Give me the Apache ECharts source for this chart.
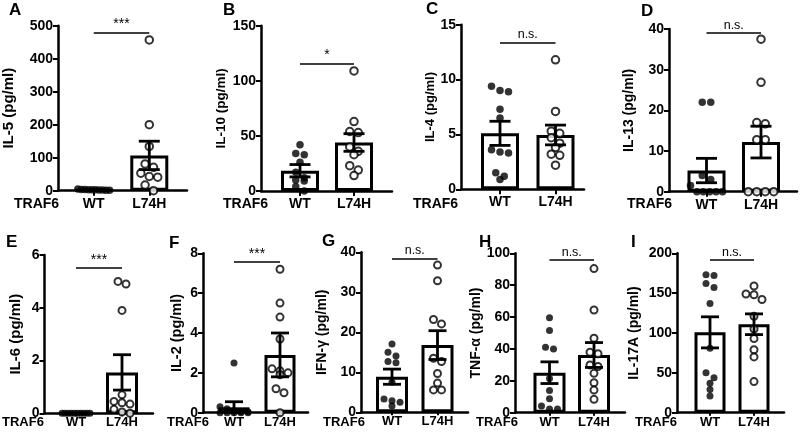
<!DOCTYPE html>
<html><head><meta charset="utf-8">
<script src="https://cdn.jsdelivr.net/npm/echarts@6/dist/echarts.min.js"></script>
<style>html,body{margin:0;padding:0;background:#fff}#c{width:800px;height:437px}</style>
</head><body><div id="c"></div>
<script>
// ---------- DATA ----------
const groups = ['WT', 'L74H'];
const factorLabel = 'TRAF6';
const panelLetters = ['A','B','C','D','E','F','G','H','I'];
const axisNames = ['IL-5 (pg/ml)','IL-10 (pg/ml)','IL-4 (pg/ml)','IL-13 (pg/ml)','IL-6 (pg/ml)','IL-2 (pg/ml)','IFN-γ (pg/ml)','TNF-α (pg/ml)','IL-17A (pg/ml)'];
const yMax = [500, 150, 15, 40, 6, 8, 40, 100, 200];
const yStep = [100, 50, 5, 10, 2, 2, 10, 20, 50];

const il5WT = [5, 4, 4, 3, 3, 3, 2, 2, 1, 1];
const il5L74H = [457, 200, 134, 81, 71, 53, 43, 41, 17, 0];
const il10WT = [42, 34, 33, 26, 17, 12, 10, 9, 4, 0];
const il10L74H = [109, 63, 54, 53, 40, 36, 33, 23, 19, 14];
const il4WT = [9.4, 9.0, 8.9, 7.3, 6.5, 3.6, 3.4, 3.3, 1.5, 1.2, 0.9];
const il4L74H = [11.8, 7.1, 5.3, 5.1, 4.7, 4.2, 3.8, 3.2, 3.1, 2.2];
const il13WT = [22, 22, 4, 3, 1.5, 0, 0, 0, 0, 0];
const il13L74H = [37.5, 26.9, 17, 16.7, 12.8, 12.8, 0, 0, 0, 0];
const il6WT = [0, 0, 0, 0, 0, 0, 0, 0, 0, 0];
const il6L74H = [5.0, 4.9, 3.9, 0.7, 0.45, 0.4, 0.35, 0.15, 0.05, 0];
const il2WT = [2.5, 0.3, 0.2, 0.1, 0.05, 0.05, 0, 0, 0, 0, 0];
const il2L74H = [7.2, 5.5, 4.8, 3.7, 2.2, 2.1, 2.0, 1.9, 1.2, 1.0, 0];
const ifngWT = [17.1, 15.0, 14.1, 12.7, 12.4, 7.5, 3.3, 2.9, 2.5, 1.6];
const ifngL74H = [36.8, 32.9, 23.2, 22.1, 13.5, 12.7, 9.7, 7.3, 5.6, 5.6];
const tnfWT = [59.6, 51.5, 41, 40, 21.5, 14, 8.8, 4.2, 2.3, 2.3];
const tnfL74H = [90.4, 64.4, 46.7, 38, 37, 30, 29, 24.7, 18.8, 14.2, 8.4];
const il17WT = [173, 172, 162, 157, 137, 81, 50, 44, 37, 29, 21];
const il17L74H = [159, 149, 148, 142, 121, 105, 93, 79, 70, 39];

// bar heights (mean) and error (SEM), [WT, L74H]
const meanValues = [[3, 107], [18.4, 44], [5.1, 4.95], [5.2, 12.2], [0, 1.55], [0.27, 2.9], [8.9, 16.8], [25.1, 36.2], [100.8, 111]];
const semValues = [[0.6, 43], [5.6, 8], [1.1, 0.9], [3.0, 3.9], [0, 0.67], [0.28, 1.1], [1.9, 3.6], [6.8, 7.8], [19.5, 13]];
const sigLevel = [480, 115.8, 13.4, 39.1, 5.5, 7.58, 38.5, 95.8, 191.6];
const sigText = ['***', '*', 'n.s.', 'n.s.', '***', '***', 'n.s.', 'n.s.', 'n.s.'];

const wtSets = [il5WT, il10WT, il4WT, il13WT, il6WT, il2WT, ifngWT, tnfWT, il17WT];
const mutSets = [il5L74H, il10L74H, il4L74H, il13L74H, il6L74H, il2L74H, ifngL74H, tnfL74H, il17L74H];

// ---------- LAYOUT (pixels) ----------
const layout = [
  {left:57,  c0:93,   c1:149,   right:187, top:25.7,  zero:190.7, barW:38, cap:21, gap:42, nf:15,   lx:9,   ly:2,   tx:14,  row:0},
  {left:261, c0:300,  c1:354,   right:392, top:25.7,  zero:191,   barW:38, cap:21, gap:30, nf:13.5, lx:223, ly:2,   tx:223, row:0},
  {left:461, c0:500,  c1:555.5, right:584, top:24.7,  zero:189.3, barW:38, cap:21, gap:20, nf:13,   lx:426, ly:1,   tx:413, row:0},
  {left:669, c0:706.5,c1:761,   right:797, top:29,    zero:191.7, barW:38, cap:21, gap:33, nf:14,   lx:641, ly:3,   tx:627, row:0},
  {left:44.5,c0:76,   c1:122,   right:153, top:255,   zero:413.3, barW:32, cap:18, gap:21, nf:15,   lx:6,   ly:234, tx:2,   row:1},
  {left:203, c0:234,  c1:280,   right:308, top:253.3, zero:412.7, barW:31, cap:18, gap:19, nf:14.5, lx:169, ly:235, tx:167, row:1},
  {left:361, c0:392,  c1:437.5, right:468, top:252.3, zero:412.3, barW:32, cap:18, gap:32, nf:14,   lx:322, ly:233, tx:323, row:1},
  {left:515, c0:549.5,c1:594,   right:625, top:253.3, zero:412.7, barW:32, cap:18, gap:30, nf:14,   lx:479, ly:234, tx:476, row:1},
  {left:677, c0:710,  c1:754,   right:784, top:253.3, zero:412.7, barW:31, cap:18, gap:36, nf:14,   lx:631, ly:234, tx:635, row:1}
];
const rowStyle = [
  {catFont:14, catMargin:6, tick:5, tickFont:14, sym:7.5, trafTop:197, spread:32},
  {catFont:13, catMargin:3, tick:3, tickFont:14, sym:7,   trafTop:415.5, spread:28}
];
const FONT = '"Liberation Sans", Arial, Helvetica, sans-serif';

// column-scatter placement (rows of similar values, centred)
function columnSpread(vals, pxPerUnit, D, maxW) {
  const sorted = vals.slice().sort((a, b) => b - a);
  const rows = [];
  let cur = null;
  sorted.forEach(v => {
    const y = v * pxPerUnit;
    if (cur && (cur.y0 - y) < D * 0.85) cur.items.push(v);
    else { cur = {y0: y, items: [v]}; rows.push(cur); }
  });
  const out = [];
  rows.forEach(r => {
    const n = r.items.length;
    const step = n > 1 ? Math.min(D + 1, maxW / (n - 1)) : 0;
    r.items.forEach((v, k) => out.push([(k - (n - 1) / 2) * step, v]));
  });
  return out;
}

const option = {animation: false, textStyle: {fontFamily: FONT}, grid: [], xAxis: [], yAxis: [], series: [], graphic: []};

layout.forEach((L, i) => {
  const R = rowStyle[L.row];
  const s = L.c1 - L.c0;
  const xmin = -(L.c0 - L.left) / s, xmax = 1 + (L.right - L.c1) / s;
  const h = L.zero - L.top;
  option.grid.push({left: L.left, top: L.top, width: L.right - L.left, height: h});
  option.xAxis.push({
    type: 'value', gridIndex: i, min: xmin, max: xmax,
    axisLine: {show: true, onZero: false, lineStyle: {color: '#000', width: 2.5}},
    axisTick: {show: true, customValues: [0, 1], length: R.tick, lineStyle: {color: '#000', width: 2}},
    axisLabel: {show: true, customValues: [0, 1], formatter: v => groups[Math.round(v)], color: '#000', fontWeight: 'bold', fontSize: R.catFont, margin: R.catMargin, fontFamily: FONT},
    splitLine: {show: false}
  });
  option.yAxis.push({
    type: 'value', gridIndex: i, min: 0, max: yMax[i], interval: yStep[i],
    name: axisNames[i], nameLocation: 'middle', nameGap: L.gap,
    nameTextStyle: {color: '#000', fontWeight: 'bold', fontSize: L.nf, fontFamily: FONT},
    axisLine: {show: true, onZero: false, lineStyle: {color: '#000', width: 2.5}},
    axisTick: {show: true, length: 5, lineStyle: {color: '#000', width: 2}},
    axisLabel: {color: '#000', fontWeight: 'bold', fontSize: R.tickFont, margin: 5, fontFamily: FONT},
    splitLine: {show: false}
  });
  const m = meanValues[i], e = semValues[i];
  option.series.push({
    type: 'bar', xAxisIndex: i, yAxisIndex: i, barWidth: L.barW, z: 2,
    data: [[0, m[0]], [1, m[1]]],
    itemStyle: {color: '#fff', borderColor: '#000', borderWidth: 3},
    markLine: {
      silent: true, symbol: 'none', animation: false,
      lineStyle: {color: '#000', width: 1.6, type: 'solid'},
      label: {show: true, position: 'middle', formatter: sigText[i], color: '#000', distance: 1,
              fontSize: sigText[i] === 'n.s.' ? 12.5 : 14, fontFamily: FONT},
      data: [[{coord: [0, sigLevel[i]]}, {coord: [1, sigLevel[i]]}]]
    }
  });
  const pxPerUnit = h / yMax[i];
  [wtSets[i], mutSets[i]].forEach((vals, g) => {
    const pts = columnSpread(vals, pxPerUnit, R.sym, R.spread).map(([dx, v]) => [g + dx / s, v]);
    option.series.push({
      type: 'scatter', xAxisIndex: i, yAxisIndex: i, z: 3, clip: false,
      symbol: 'circle', symbolSize: R.sym,
      itemStyle: g === 0 ? {color: '#000'} : {color: '#fff', borderColor: '#000', borderWidth: 2},
      data: pts
    });
  });
  option.series.push({
    type: 'custom', xAxisIndex: i, yAxisIndex: i, z: 4, clip: false,
    encode: {x: 0, y: 1},
    data: [[0, m[0], e[0]], [1, m[1], e[1]]],
    renderItem: (params, api) => {
      const x = api.value(0), mv = api.value(1), sv = api.value(2);
      if (!sv) return null;
      const top = api.coord([x, mv + sv]);
      const bot = api.coord([x, Math.max(0, mv - sv)]);
      const hw = L.cap / 2;
      const st = {stroke: '#000', lineWidth: 2.8};
      return {type: 'group', children: [
        {type: 'line', shape: {x1: top[0], y1: top[1], x2: bot[0], y2: bot[1]}, style: st},
        {type: 'line', shape: {x1: top[0] - hw, y1: top[1], x2: top[0] + hw, y2: top[1]}, style: st},
        {type: 'line', shape: {x1: bot[0] - hw, y1: bot[1], x2: bot[0] + hw, y2: bot[1]}, style: st}
      ]};
    }
  });
  option.graphic.push({type: 'text', left: L.lx, top: L.ly, style: {text: panelLetters[i], font: 'bold 17px ' + FONT, fill: '#000'}});
  option.graphic.push({type: 'text', left: L.tx, top: R.trafTop, style: {text: factorLabel, font: 'bold ' + R.catFont + 'px ' + FONT, fill: '#000'}});
});

const chart = echarts.init(document.getElementById('c'), null, {renderer: 'canvas'});
chart.setOption(option);
</script>
</body></html>
